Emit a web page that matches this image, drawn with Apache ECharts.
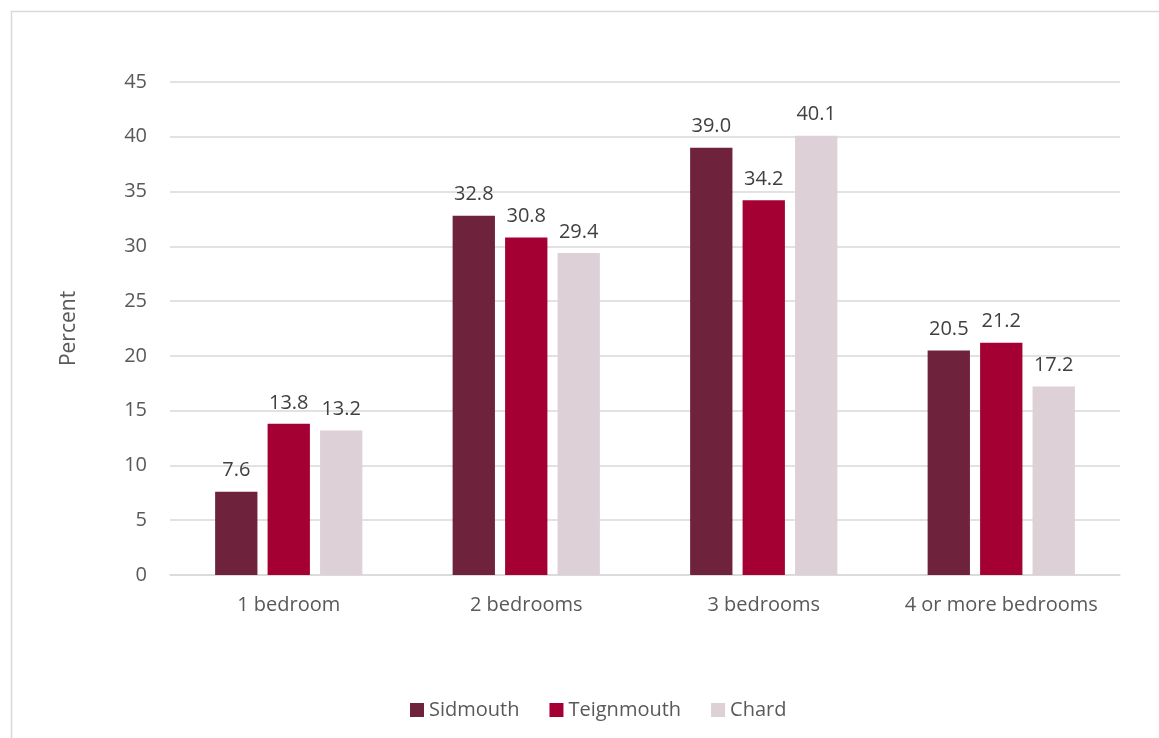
<!DOCTYPE html>
<html><head><meta charset="utf-8">
<script src="https://cdn.jsdelivr.net/npm/echarts@6/dist/echarts.min.js"></script>
<style>html,body{margin:0;padding:0;background:#fff}#c{width:1159px;height:738px}</style>
</head><body><div id="c"></div>
<script>
const categories = ['1 bedroom', '2 bedrooms', '3 bedrooms', '4 or more bedrooms'];
const sidmouth = [7.6, 32.8, 39.0, 20.5];
const teignmouth = [13.8, 30.8, 34.2, 21.2];
const chard = [13.2, 29.4, 40.1, 17.2];
const seriesNames = ['Sidmouth', 'Teignmouth', 'Chard'];
const colors = ['#6E223B', '#A50034', '#DDD0D6'];
const FONT = '"Open Sans", sans-serif';
const chart = echarts.init(document.getElementById('c'));
const mk = (name, data, color) => ({
  name, type: 'bar', data, barGap: '24%', barCategoryGap: '38%',
  itemStyle: { color },
  label: { show: true, position: 'top', distance: 11, color: '#404040', fontSize: 20, fontFamily: FONT,
    formatter: p => p.value.toFixed(1) }
});
chart.setOption({
  animation: false,
  textStyle: { fontFamily: FONT },
  graphic: [{ type: 'rect', shape: { x: 11.5, y: 11.5, width: 1170, height: 760 },
    style: { fill: 'none', stroke: '#d9d9d9', lineWidth: 1.5 }, silent: true }],
  grid: { left: 170, right: 39, top: 82, bottom: 163 },
  legend: { bottom: 13, left: 405, itemWidth: 14, itemHeight: 14, itemGap: 30,
    icon: 'rect', textStyle: { color: '#595959', fontSize: 20, fontFamily: FONT }, data: seriesNames },
  xAxis: { type: 'category', data: categories,
    axisLine: { lineStyle: { color: '#d9d9d9', width: 1.5 } }, axisTick: { show: false },
    axisLabel: { color: '#595959', fontSize: 20, fontFamily: FONT, margin: 20, interval: 0, hideOverlap: false } },
  yAxis: { type: 'value', min: 0, max: 45, interval: 5,
    name: 'Percent', nameLocation: 'middle', nameGap: 90, nameRotate: 90,
    nameTextStyle: { color: '#595959', fontSize: 21, fontFamily: FONT },
    axisLine: { show: false }, axisTick: { show: false },
    splitLine: { lineStyle: { color: '#d9d9d9', width: 1.5 } },
    axisLabel: { color: '#595959', fontSize: 20, fontFamily: FONT, margin: 23 } },
  series: [mk(seriesNames[0], sidmouth, colors[0]), mk(seriesNames[1], teignmouth, colors[1]), mk(seriesNames[2], chard, colors[2])]
});
</script></body></html>
